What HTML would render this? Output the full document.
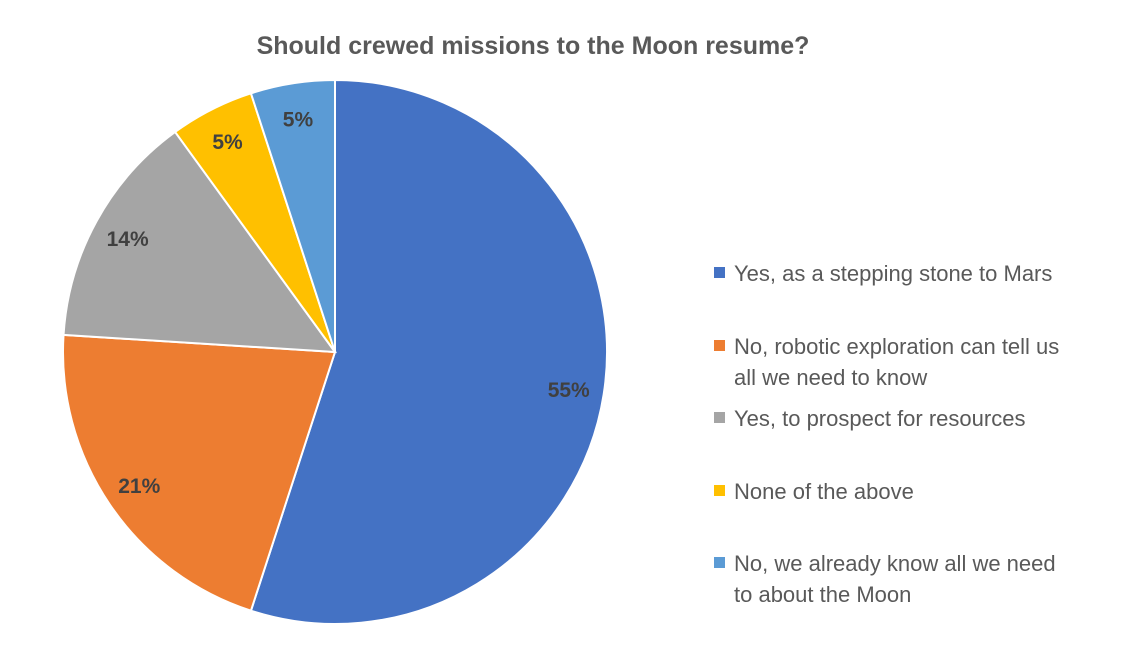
<!DOCTYPE html>
<html><head><meta charset="utf-8"><style>
body{margin:0;background:#fff;}
svg{display:block;font-family:"Liberation Sans",Arial,sans-serif;}
</style></head><body>
<svg width="1134" height="664" viewBox="0 0 1134 664">
<text x="533" y="54" text-anchor="middle" font-size="25" font-weight="bold" fill="#595959">Should crewed missions to the Moon resume?</text>
<g id="slices"></g>
<g id="labels"></g>
<g id="legend"></g>
</svg>
<script>
const categories = ["Yes, as a stepping stone to Mars","No, robotic exploration can tell us|all we need to know","Yes, to prospect for resources","None of the above","No, we already know all we need|to about the Moon"];
const values = [55, 21, 14, 5, 5];
const colors = ["#4472C4","#ED7D31","#A5A5A5","#FFC000","#5B9BD5"];
const NS="http://www.w3.org/2000/svg";
const cx=335, cy=352, R=272;
const total=values.reduce((a,b)=>a+b,0);
function pt(a,r){return [cx+r*Math.sin(a), cy-r*Math.cos(a)];}
const sl=document.getElementById('slices'), lb=document.getElementById('labels'), lg=document.getElementById('legend');
let acc=0;
values.forEach((v,i)=>{
  const a0=acc/total*2*Math.PI; acc+=v; const a1=acc/total*2*Math.PI;
  const p0=pt(a0,R), p1=pt(a1,R);
  const large=(a1-a0)>Math.PI?1:0;
  const p=document.createElementNS(NS,'path');
  p.setAttribute('d',`M${cx},${cy} L${p0[0]},${p0[1]} A${R},${R} 0 ${large} 1 ${p1[0]},${p1[1]} Z`);
  p.setAttribute('fill',colors[i]); p.setAttribute('stroke','#fff'); p.setAttribute('stroke-width','2');
  
  
  sl.appendChild(p);
  const m=pt((a0+a1)/2,R*0.87);
  const t=document.createElementNS(NS,'text');
  t.setAttribute('x',m[0]); t.setAttribute('y',m[1]+8);
  t.setAttribute('text-anchor','middle'); t.setAttribute('font-size','21'); t.setAttribute('font-weight','bold'); t.setAttribute('fill','#404040');
  t.textContent=Math.round(v/total*100)+'%';
  
  
  lb.appendChild(t);
});
const ly=[273,346,418,491,563];
categories.forEach((c,i)=>{
  const g=document.createElementNS(NS,'g');
  
  
  const r=document.createElementNS(NS,'rect');
  r.setAttribute('x',714); r.setAttribute('y',ly[i]-6); r.setAttribute('width',11); r.setAttribute('height',11); r.setAttribute('fill',colors[i]);
  g.appendChild(r);
  c.split('|').forEach((line,j)=>{
    const t=document.createElementNS(NS,'text');
    t.setAttribute('x',734); t.setAttribute('y',ly[i]+8+j*31);
    t.setAttribute('font-size','22'); t.setAttribute('fill','#595959');
    t.textContent=line; g.appendChild(t);
  });
  lg.appendChild(g);
});
</script>
</body></html>
